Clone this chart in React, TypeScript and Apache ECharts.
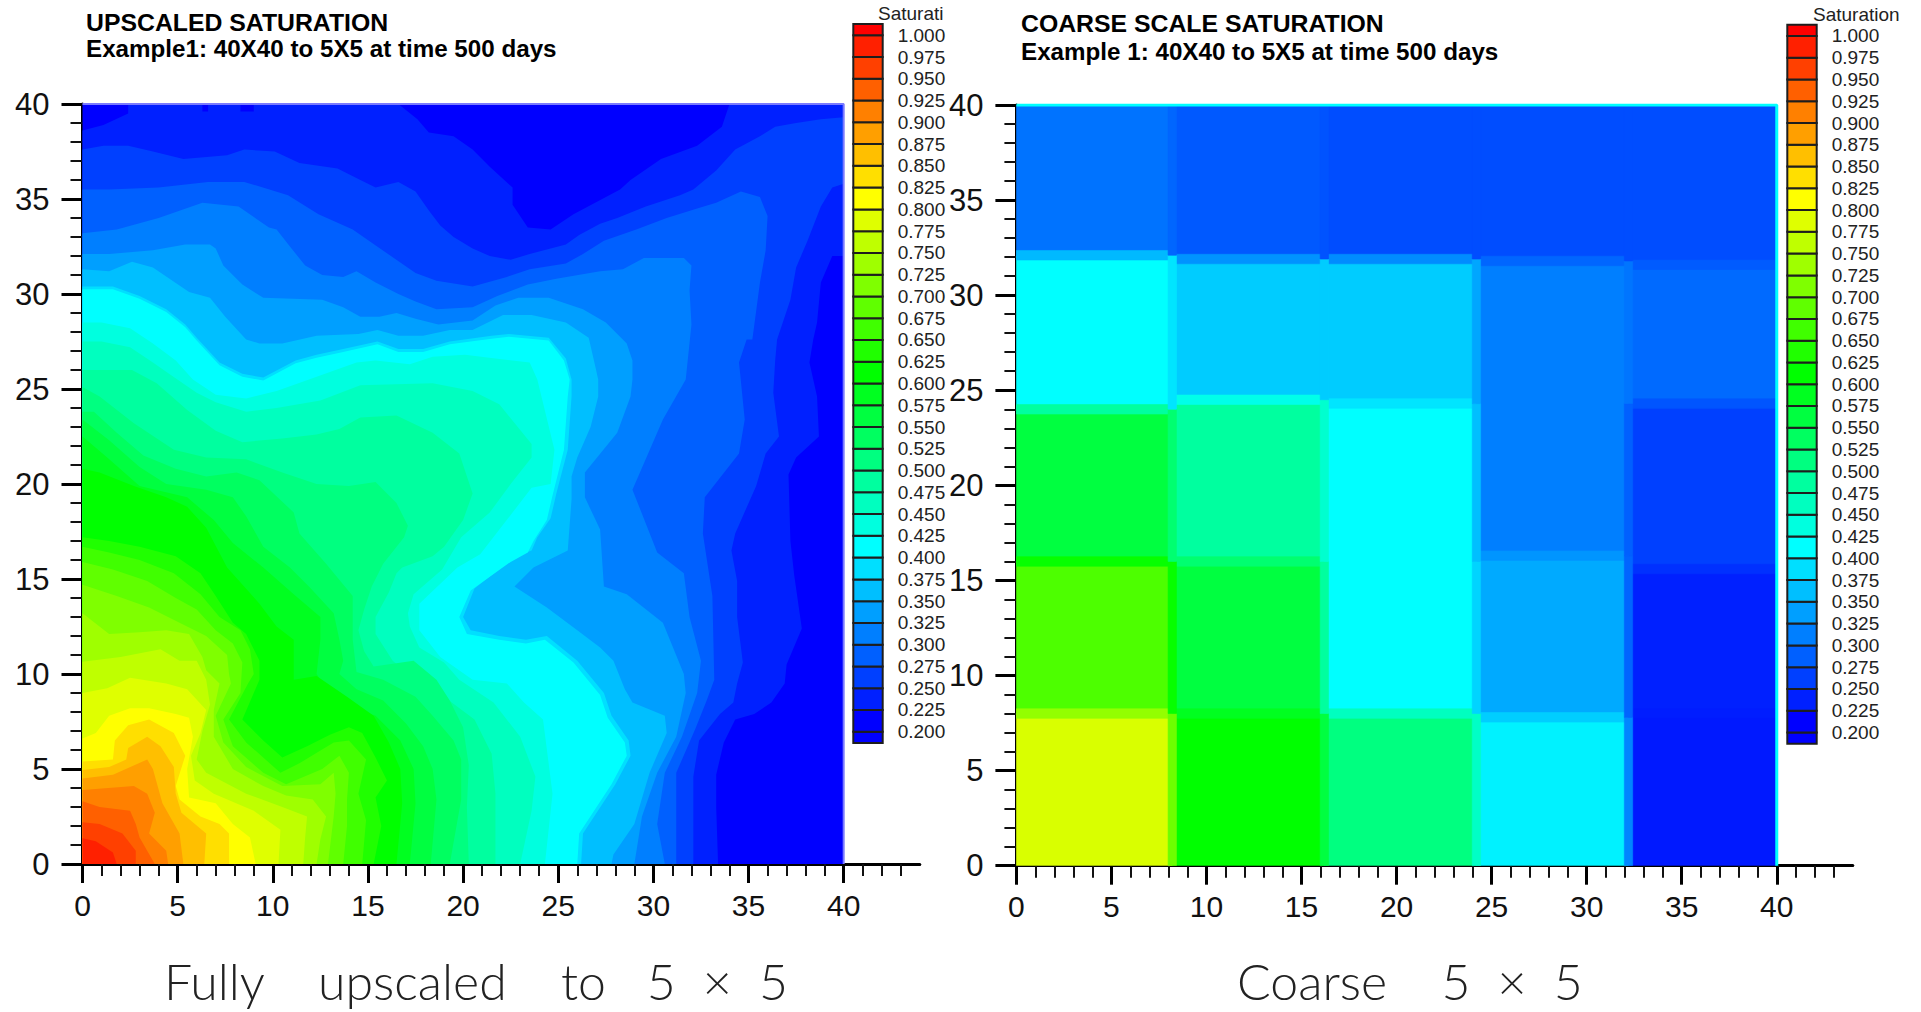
import React, { useEffect, useRef } from "react";
import * as echarts from "echarts";

// Tick labels and levels
const xyMajorTicks = [0, 5, 10, 15, 20, 25, 30, 35, 40];
const colorbarLevels = [1.0, 0.975, 0.95, 0.925, 0.9, 0.875, 0.85, 0.825, 0.8, 0.775, 0.75, 0.725, 0.7, 0.675, 0.65, 0.625, 0.6, 0.575, 0.55, 0.525, 0.5, 0.475, 0.45, 0.425, 0.4, 0.375, 0.35, 0.325, 0.3, 0.275, 0.25, 0.225, 0.2];

// Left panel: boundary of the region "saturation >= level", in data units
const c200 = [[0, 0], [40, 0], [40, 40], [0, 40]];
const c225 = [[0, 38.6], [1.1, 38.9], [2.4, 39.5], [2.4, 40], [6.3, 40], [6.3, 39.6], [6.6, 39.6], [6.6, 40], [8.3, 40], [8.3, 39.6], [9, 39.6], [9, 40], [16.6, 40], [17.6, 39.2], [18.2, 38.5], [19.5, 38.3], [20.5, 37.6], [21.4, 36.7], [22.6, 35.6], [22.6, 34.7], [23.4, 33.5], [24.6, 33.4], [25.8, 34.2], [28.25, 35.5], [28.8, 36], [30.4, 37.1], [32.3, 37.8], [33.6, 38.8], [34, 40], [40, 40], [40, 32], [39.4, 32], [38.8, 30.6], [38.6, 28.5], [38.4, 27.6], [38.2, 26.4], [38.6, 24.6], [38.7, 22.5], [37.5, 21.4], [37.1, 20.5], [37.2, 17], [37.4, 15.2], [37.8, 12.4], [37, 10.5], [36.9, 9.5], [36.2, 8.5], [35.3, 7.9], [34.3, 7.6], [33.7, 6.4], [33.3, 4.7], [33.3, 3], [33.4, 0]];
const c250 = [[0, 37.6], [1.1, 37.8], [2.4, 37.8], [3.7, 37.5], [5.3, 37.1], [7.6, 37.3], [8.5, 37.6], [10.1, 37.5], [11.4, 36.9], [13.4, 36.6], [14.6, 36], [15.4, 35.6], [16.6, 35.9], [17.5, 35.4], [18.2, 34.4], [18.8, 33.6], [19.5, 33], [20.5, 32.4], [21.4, 32], [22.5, 31.8], [23.5, 32.1], [25.4, 32.6], [26.1, 33.1], [27.2, 33.7], [28.1, 34], [29.6, 34.6], [31.4, 35.2], [32.1, 35.5], [33.3, 36.5], [34.3, 37.6], [35.6, 38.3], [36.4, 38.8], [37.5, 39], [38.8, 39.2], [40, 39.3], [40, 35.8], [39.4, 35.6], [38.8, 34.6], [38.1, 32.8], [37.5, 31.4], [37.2, 29.7], [36.5, 27.6], [36.4, 26.5], [36.3, 24.8], [36.6, 22.5], [35.9, 21.6], [35.4, 19.9], [34.3, 17.4], [34.1, 16.5], [34.4, 14.9], [34.4, 13], [34.7, 10.6], [34.4, 9.5], [34.2, 8.5], [33.5, 7.9], [32.4, 6.5], [32.1, 4.6], [32.1, 0]];
const c275 = [[0, 35.5], [1.4, 35.5], [4, 35.6], [6.6, 35.9], [8.5, 35.9], [10.8, 35.2], [12.4, 34.2], [14.2, 33.4], [15.2, 32.7], [17.5, 31.1], [18.6, 30.7], [20.5, 30.4], [22.3, 30.9], [23.5, 31.3], [25.4, 31.6], [26.3, 32.1], [27.4, 32.8], [29.1, 33.4], [30.7, 34], [32.3, 34.5], [33.3, 34.8], [34.6, 35.4], [35.6, 35.1], [36, 34.1], [35.9, 32.3], [35.6, 30.6], [35.2, 27.6], [34.9, 27.6], [34.5, 26.4], [34.8, 23.4], [34.5, 21.6], [32.7, 19.3], [32.6, 17.4], [33.1, 14.1], [33.2, 9.7], [32.8, 8.6], [32.2, 7.1], [31.2, 4.8], [31.2, 0]];
const c300 = [[0, 33.2], [1.8, 33.4], [4, 34], [6.3, 34.8], [8.2, 34.6], [9.8, 33.5], [10.2, 33.4], [10.9, 32.5], [11.7, 31.5], [12.6, 31], [13.7, 30.9], [14.4, 31.2], [15.4, 30.6], [16.6, 30], [17.5, 29.6], [18.6, 29.2], [20.5, 29.3], [21.8, 29.9], [23.4, 30.5], [24.9, 30.8], [27.2, 31.2], [28.4, 31.3], [29.5, 31.9], [31.6, 31.9], [32, 31.5], [31.9, 30.2], [32, 28.4], [31.7, 25.5], [30.5, 23.4], [28.9, 19.7], [30.2, 16.4], [31.6, 15.3], [31.9, 13], [32.5, 10.7], [32.3, 9], [31.5, 6.7], [30.6, 4.8], [30.2, 2.1], [30.6, 0]];
const c325 = [[0, 32.1], [1.4, 32.1], [3.7, 32.3], [5.4, 32.6], [6.7, 32.6], [7, 32.4], [7.4, 31.5], [8.4, 30.5], [9.5, 29.8], [12.6, 29.7], [13.7, 29.3], [14.6, 28.8], [15.6, 28.8], [16.5, 29], [17.5, 28.7], [18.7, 28.4], [20.5, 28.6], [21.7, 29.4], [22.9, 29.8], [24.5, 29.8], [26.3, 29.2], [27.5, 28.5], [28.6, 27.4], [28.9, 26.5], [28.9, 25.5], [28.8, 24.6], [28.1, 22.7], [26.4, 20.6], [26.4, 19.3], [27.2, 17.6], [27.4, 14.6], [28.6, 14.2], [30.5, 12.7], [31.6, 10], [31.7, 9], [31.2, 6.7], [30.2, 4.8], [29.4, 2.5], [29, 0]];
const c350 = [[0, 31.3], [1.4, 31.2], [2.6, 31.7], [3.7, 31.4], [5.6, 30.1], [6.7, 29.8], [7.5, 28.8], [8.6, 27.6], [9.3, 27.4], [10.5, 27.4], [12.3, 27.8], [14.5, 27.9], [15.5, 28.1], [16.6, 27.8], [17.9, 27.8], [19.3, 28.1], [20.5, 28.1], [22.1, 28.9], [23.6, 28.9], [25.4, 28.5], [26.6, 27.7], [26.9, 26.4], [27.1, 25.5], [27.1, 24.6], [26.7, 23], [26, 21.4], [25.7, 20.4], [25.7, 19.2], [25.5, 16.5], [23.7, 15.6], [22.7, 14.6], [24.4, 13.5], [26, 12.3], [27.2, 11.4], [27.9, 10.7], [28.5, 9.2], [28.9, 8.5], [30.6, 7.8], [30.7, 6.9], [29.8, 4.8], [29, 2.1], [27.9, 0.5], [27.8, 0]];
const c375 = [[0, 30.4], [1.6, 30.4], [3, 29.9], [4.4, 29.2], [5.4, 28.4], [6, 27.7], [7.2, 26.4], [8.4, 25.8], [9.5, 25.6], [11.2, 26.5], [12.3, 26.8], [13.7, 27.1], [15.5, 27.5], [16.6, 27.1], [17.9, 27.1], [19.3, 27.5], [21.5, 27.8], [22.4, 27.9], [24.5, 27.7], [25.4, 26.6], [25.7, 25.5], [25.7, 24.6], [25.5, 21.8], [24.9, 19.5], [24.6, 18.2], [23.9, 17.2], [23.6, 16.5], [22.6, 16.1], [20.6, 14.5], [20, 13], [20.4, 12.3], [21.9, 12], [23.3, 11.8], [24.4, 12], [26, 10.7], [27.4, 9], [27.8, 7.8], [28.7, 6.5], [28.8, 5.7], [28, 4.2], [26.3, 1.6], [26.2, 0]];
const c400 = [[0, 30.25], [1.6, 30.25], [3, 29.75], [4.4, 29.05], [5.4, 28.25], [6, 27.55], [7.2, 26.25], [8.4, 25.65], [9.5, 25.45], [11.2, 26.35], [12.3, 26.65], [13.7, 26.95], [15.5, 27.35], [16.6, 26.95], [17.9, 26.95], [19.3, 27.35], [21.5, 27.65], [22.4, 27.75], [24.5, 27.55], [25.3, 26.5], [25.6, 25.5], [25.5, 24.6], [25.3, 21.8], [24.7, 19.4], [24.4, 18.1], [23.7, 17], [23.4, 16.4], [22.5, 15.9], [20.4, 14.4], [19.8, 13], [20.2, 12.1], [21.9, 11.8], [23.3, 11.6], [24.3, 11.8], [25.8, 10.6], [27.2, 8.9], [27.6, 7.7], [28.5, 6.4], [28.6, 5.7], [27.8, 4.2], [26.1, 1.6], [26, 0]];
const c425 = [[0, 28.5], [1, 28.5], [2.5, 28.2], [3.7, 27.4], [4.9, 26.5], [5.8, 25.5], [7, 24.7], [8.6, 24.5], [10.2, 24.9], [11.9, 25.5], [14.4, 26.4], [15.4, 26.5], [17.2, 26.3], [18.4, 26.7], [20.1, 26.8], [21.7, 26.6], [23.5, 26.4], [23.9, 25.5], [24.8, 21.8], [24.6, 20], [23.6, 19.8], [22.6, 18.5], [20.9, 16.3], [19.7, 15.6], [17.7, 13.7], [17.7, 12.3], [18.8, 10.9], [20.5, 9.7], [22.3, 9.5], [23.2, 8.5], [24.2, 7.6], [24.7, 3.7], [24.3, 0]];
const c450 = [[0, 27.5], [1, 27.5], [2.5, 27.2], [3.7, 26.4], [4.7, 25.7], [6, 24.8], [7, 24.3], [8.6, 23.8], [10.2, 24], [12.5, 24.4], [14.6, 25.2], [18.4, 25.3], [20.5, 24.9], [21.9, 24.2], [23.6, 22.1], [23.6, 21.4], [22.5, 20], [21.4, 18.5], [19.9, 17.2], [18.9, 15.5], [17.4, 14.2], [17.1, 13.2], [17.2, 12.5], [17.7, 11.4], [19, 10.6], [19.8, 9.7], [21.6, 8.5], [23, 6.7], [23.8, 4.6], [23.6, 2.8], [23, 0]];
const c475 = [[0, 26], [2.6, 26], [3.9, 25.3], [5.5, 23.9], [7, 22.8], [8.4, 22.2], [10.5, 22.4], [12.3, 22.6], [13.5, 22.9], [14.6, 23.5], [16.5, 23.6], [18.4, 22.7], [19.8, 21.6], [20.5, 19.5], [20, 18.1], [19, 16.7], [18.4, 16.2], [16.8, 15.6], [16.5, 15.3], [16.1, 14.3], [15.4, 13], [15.4, 12.1], [16.3, 10.7], [17.5, 9.7], [19, 8.8], [20.6, 7.6], [21.5, 5.8], [21.7, 3.7], [21.7, 0]];
const c500 = [[0, 25.1], [0.9, 24.6], [2.7, 23.2], [4.8, 21.8], [6.5, 21.4], [8.6, 21.3], [10.5, 20.6], [12.3, 20], [14, 19.9], [15.4, 20.1], [16.5, 19], [17.1, 17.8], [16.9, 17.2], [15.8, 15.8], [15.2, 14.6], [14.8, 13.4], [14.5, 12.3], [14.8, 11.2], [15.3, 10.4], [17.4, 10.7], [18.6, 9.7], [19.3, 8.6], [20, 7.2], [20.3, 5.2], [20.2, 3], [20.3, 0]];
const c525 = [[0, 23.8], [0.6, 23.8], [1.8, 22.7], [3.2, 21.5], [4.9, 20.8], [6.5, 20.4], [8.1, 20.6], [9.3, 20.2], [11.1, 18.5], [11.4, 17.4], [12.8, 15.8], [14.2, 14.1], [14.2, 11.8], [14.4, 10.1], [15.8, 9.7], [17.5, 8.8], [18.4, 7.8], [19.5, 6.5], [19.9, 5.5], [19.9, 3.4], [19.3, 0]];
const c550 = [[0, 23.4], [1.4, 22.3], [3, 20.9], [4.4, 20], [6.5, 19.7], [7.9, 19.3], [8.6, 18.3], [9.5, 16.7], [10.9, 15.6], [11.9, 14.6], [13.2, 13.2], [13.5, 11.8], [13.7, 10.7], [13.5, 10], [14.4, 9.2], [15.8, 8.6], [17, 7.4], [17.9, 6.2], [18.4, 5], [18.6, 3.4], [18.3, 0]];
const c575 = [[0, 22.5], [1.3, 21.4], [3, 19.9], [5.5, 19.3], [6.9, 18.1], [7.9, 16.9], [9.5, 15.6], [11.1, 14.2], [12.5, 13], [12.5, 11.8], [12.3, 10], [12.5, 9.7], [13.3, 8.5], [15.4, 7.8], [16.7, 6.5], [17.4, 5], [17.5, 3.2], [17.2, 0]];
const c600 = [[0, 20.8], [0.9, 20.6], [2.7, 19.9], [4.4, 19.3], [5.5, 18.8], [6.5, 17.7], [7.6, 15.6], [9.3, 13.7], [10.2, 12.5], [11.1, 11.8], [11.1, 9.7], [12.3, 9.9], [13.9, 8.8], [15.3, 7.8], [16.1, 6.4], [16.7, 5], [16.8, 3.2], [16.5, 0]];
const c625 = [[0, 17.2], [1.4, 17], [3, 16.7], [4.9, 16.2], [6.2, 15.3], [7, 14.1], [7.9, 12.7], [8.6, 12.1], [9.3, 10.7], [9.3, 9.7], [8.4, 7.6], [9.5, 6.5], [10.5, 5.6], [11.8, 6.2], [13, 6.8], [14, 7.2], [14.7, 6.9], [15.4, 5.6], [16, 4.4], [15.4, 3.5], [15.7, 2], [15.3, 0]];
const c650 = [[0, 16.7], [1.4, 16.4], [3, 16], [4.8, 15.3], [6.2, 14.2], [7.2, 13], [8.3, 12.3], [8.8, 11.3], [9, 10], [8.7, 9.5], [7.7, 7.6], [8.6, 6.4], [10.4, 4.8], [11.4, 5.3], [13.2, 6.4], [14, 6.5], [14.9, 5.5], [14.5, 3.7], [14.9, 2.3], [14.7, 0]];
const c675 = [[0, 15.9], [1.6, 15.5], [3.4, 14.9], [4.9, 14], [6, 13.4], [7, 12.3], [7.9, 11.6], [8.4, 10.6], [8.3, 9], [7.4, 7.6], [7.9, 6.2], [9.5, 4.8], [10.7, 4.2], [12.6, 5], [13.5, 5.7], [14, 4.8], [13.9, 3.4], [13.9, 2], [13.7, 0]];
const c700 = [[0, 14.7], [1.8, 14.1], [3.5, 13.5], [5.1, 12.7], [6.5, 12], [7.6, 11], [7.7, 10], [7.8, 9.5], [7, 7.8], [7.4, 6.4], [8.6, 5.1], [10.5, 4.1], [12.5, 4.2], [13.2, 4.8], [13.3, 3.7], [13.2, 2.5], [12.9, 0]];
const c725 = [[0, 13.2], [1.4, 12.1], [3, 12.2], [4.4, 12.3], [5.6, 12.1], [6.3, 10.9], [6.5, 10.2], [7.2, 9.5], [6.9, 8.1], [6.9, 6.7], [7.9, 5], [9.5, 4.1], [10.7, 3.6], [12.1, 3.4], [12.8, 2.5], [12.5, 1.3], [12.3, 0]];
const c750 = [[0, 10.65], [2, 10.9], [4.1, 11.3], [5.1, 10.7], [6, 10.7], [6.5, 9.7], [6.7, 8.4], [6.3, 7], [6, 5.5], [6.5, 4.8], [8.6, 3.7], [10.5, 3], [11.8, 2.5], [11.7, 1.4], [11.6, 0]];
const c775 = [[0, 9], [1.3, 9.25], [2.5, 9.8], [4.4, 9.5], [5.5, 9.2], [6.5, 8.1], [6.2, 6.9], [5.7, 5.7], [5.9, 4.4], [6.9, 3.7], [9, 2.8], [10.4, 1.8], [10.3, 0]];
const c800 = [[0, 6.6], [0.7, 6.9], [1.4, 7.8], [2.5, 8.2], [3.5, 8.2], [4.9, 7.9], [5.6, 7.7], [5.8, 6.7], [5.5, 5], [5.6, 3.5], [7, 3.2], [7.9, 2.1], [8.8, 1.4], [9.1, 0]];
const c825 = [[0, 5.4], [1.6, 5.5], [1.7, 6.5], [2.4, 7.3], [3.5, 7.6], [4.8, 6.9], [5.4, 5.7], [4.9, 4.1], [5.1, 3.4], [6.2, 2.5], [7.2, 2.1], [7.7, 1.6], [7.7, 0]];
const c850 = [[0, 4.95], [1.4, 5.1], [2.3, 5.5], [2.4, 6.1], [3.4, 6.7], [4.1, 6.2], [4.8, 5.1], [4.9, 3.7], [5.2, 2.7], [6.5, 1.6], [6.4, 0]];
const c875 = [[0, 4.5], [1.6, 4.7], [3.4, 5.5], [3.7, 5], [4.2, 3.2], [5.1, 1.6], [5.3, 0]];
const c900 = [[0, 3.9], [2.7, 4.1], [3.4, 3.7], [3.8, 2.7], [3.5, 1.6], [4.4, 0.7], [4.5, 0]];
const c925 = [[0, 3.3], [0.9, 3], [2.5, 2.8], [2.8, 2.1], [3, 1.4], [3.8, 0]];
const c950 = [[0, 2.2], [0.9, 2.1], [2.1, 1.6], [2.8, 0.7], [2.8, 0]];
const c975 = [[0, 1.35], [0.7, 1.2], [1.6, 0.6], [1.8, 0]];

const contourLevels = [0.2, 0.225, 0.25, 0.275, 0.3, 0.325, 0.35, 0.375, 0.4, 0.425, 0.45, 0.475, 0.5, 0.525, 0.55, 0.575, 0.6, 0.625, 0.65, 0.675, 0.7, 0.725, 0.75, 0.775, 0.8, 0.825, 0.85, 0.875, 0.9, 0.925, 0.95, 0.975];
const contourShapes = [c200, c225, c250, c275, c300, c325, c350, c375, c400, c425, c450, c475, c500, c525, c550, c575, c600, c625, c650, c675, c700, c725, c750, c775, c800, c825, c850, c875, c900, c925, c950, c975];

// Right panel: coarse 5x5 cells (rows from y = 0 upward, columns from x = 0 rightward)
const coarseXEdges = [0, 8.2, 16.2, 24.2, 32.2, 40];
const coarseCol0Edges = [0, 8, 16, 24, 32.1, 40];
const coarseCol1Edges = [0, 8, 16, 24.5, 31.9, 40];
const coarseCol2Edges = [0, 8, 16, 24.3, 31.9, 40];
const coarseCol3Edges = [0, 7.8, 16.3, 24.3, 31.8, 40];
const coarseCol4Edges = [0, 8, 15.6, 24.3, 31.6, 40];
const coarseColEdges = [coarseCol0Edges, coarseCol1Edges, coarseCol2Edges, coarseCol3Edges, coarseCol4Edges];
const coarseRow0 = [0.77, 0.6, 0.5, 0.39, 0.22];
const coarseRow1 = [0.66, 0.55, 0.4, 0.333, 0.225];
const coarseRow2 = [0.55, 0.475, 0.4, 0.3, 0.25];
const coarseRow3 = [0.4, 0.36, 0.36, 0.3, 0.283];
const coarseRow4 = [0.29, 0.27, 0.26, 0.26, 0.26];
const coarseRows = [coarseRow0, coarseRow1, coarseRow2, coarseRow3, coarseRow4];

const sans = "Liberation Sans";

function rainbow(v: number): string {
  let r = 0, g = 0, b = 0;
  if (v <= 0.4) { const t = Math.max(0, (v - 0.2) / 0.2); g = 255 * t; b = 255; }
  else if (v <= 0.6) { const t = (v - 0.4) / 0.2; g = 255; b = 255 * (1 - t); }
  else if (v <= 0.8) { const t = (v - 0.6) / 0.2; r = 255 * t; g = 255; }
  else { const t = Math.min(1, (v - 0.8) / 0.2); r = 255; g = 255 * (1 - t); }
  return `rgb(${Math.round(r)},${Math.round(g)},${Math.round(b)})`;
}

function plotAxes(gridIndex: number) {
  const shared = {
    gridIndex,
    type: "value",
    min: 0,
    interval: 5,
    axisLine: { show: true, onZero: false, lineStyle: { color: "#000", width: 3 } },
    minorTick: { show: true, splitNumber: 5, length: 12, lineStyle: { color: "#111", width: 2 } },
    splitLine: { show: false },
    minorSplitLine: { show: false },
  };
  const labelStyle = { color: "#111", fontFamily: sans, customValues: xyMajorTicks };
  return {
    x: {
      ...shared, max: 44, position: "bottom",
      axisTick: { show: true, length: 19, lineStyle: { color: "#000", width: 3 }, customValues: xyMajorTicks },
      axisLabel: { ...labelStyle, margin: 26, fontSize: 30 },
    },
    y: {
      ...shared, max: 40, position: "left",
      axisTick: { show: true, length: 21, lineStyle: { color: "#000", width: 3 }, customValues: xyMajorTicks },
      axisLabel: { ...labelStyle, margin: 33, fontSize: 31 },
    },
  };
}

function colorbarSeries(idx: number) {
  const cells: number[][] = [];
  cells.push([0.187, 0.2, 0.1]);
  for (let i = colorbarLevels.length - 1; i > 0; i--) cells.push([colorbarLevels[i], colorbarLevels[i - 1], colorbarLevels[i]]);
  cells.push([1.0, 1.013, 1.0]);
  return {
    type: "custom", coordinateSystem: "cartesian2d", xAxisIndex: idx, yAxisIndex: idx, silent: true, clip: false,
    data: cells,
    encode: { y: [0, 1] },
    renderItem: (_: any, api: any) => {
      const lo = api.value(0), hi = api.value(1), c = api.value(2);
      const a = api.coord([0, hi]), b = api.coord([1, lo]);
      return {
        type: "rect",
        shape: { x: a[0], y: a[1], width: b[0] - a[0], height: b[1] - a[1] },
        style: { fill: rainbow(c), stroke: "#1e1e1e", lineWidth: 2 },
      };
    },
  };
}

function colorbarAxes(gridIndex: number) {
  return {
    x: { gridIndex, type: "value", min: 0, max: 1, show: false },
    y: {
      gridIndex, type: "value", min: 0.175, max: 1.025, interval: 0.025, position: "right",
      axisLine: { show: false }, axisTick: { show: false }, splitLine: { show: false },
      axisLabel: {
        show: true, margin: 15, color: "#222", fontFamily: sans, fontSize: 19, customValues: colorbarLevels,
        padding: [6, 0, 0, 0],
        formatter: (v: number) => v.toFixed(3),
      },
    },
  };
}

function buildCoarseCells() {
  const cells: number[][] = [];
  const stripH = 0.25, stripV = 0.22;
  coarseRows.forEach((row, j) => row.forEach((v, i) => {
    const e = coarseColEdges[i];
    cells.push([coarseXEdges[i], coarseXEdges[i + 1], e[j], e[j + 1], v]);
  }));
  coarseRows.forEach((row, j) => {
    if (j === coarseRows.length - 1) return;
    row.forEach((v, i) => {
      const edge = coarseColEdges[i][j + 1];
      cells.push([coarseXEdges[i], coarseXEdges[i + 1], edge - stripH, edge + stripH, (v + coarseRows[j + 1][i]) / 2]);
    });
  });
  coarseRows.forEach((row, j) => {
    row.forEach((v, i) => {
      if (i === row.length - 1) return;
      const e = coarseColEdges[i];
      cells.push([coarseXEdges[i + 1] - stripV, coarseXEdges[i + 1] + stripV, e[j], e[j + 1], (v + row[i + 1]) / 2]);
    });
  });
  return cells;
}

function App() {
  const ref = useRef<HTMLDivElement>(null);
  useEffect(() => {
    document.body.style.margin = "0";
    document.body.style.overflow = "hidden";
    const chart = echarts.init(ref.current!, null, { renderer: "svg" });
    const pL = plotAxes(0), pR = plotAxes(1), cL = colorbarAxes(2), cR = colorbarAxes(3);
    const t = (text: string, left: number, top: number, textStyle: any) => ({ text, left, top, padding: 0, textStyle: { color: "#000", fontFamily: sans, ...textStyle } });
    const head1 = { fontSize: 24.8, fontWeight: "bold" };
    const head2 = { fontSize: 24.2, fontWeight: "bold" };
    const cap = { fontFamily: "Lato", fontWeight: 300, fontSize: 50, lineHeight: 50, color: "#222" };
    const bar = { fontSize: 19, fontWeight: "normal", color: "#222" };
    chart.setOption({
      animation: false,
      backgroundColor: "#fff",
      tooltip: { show: false },
      title: [
        t("UPSCALED SATURATION", 86, 10, head1),
        t("Example1: 40X40 to 5X5 at time 500 days", 86, 36, head2),
        t("COARSE SCALE SATURATION", 1021, 11, head1),
        t("Example 1: 40X40 to 5X5 at time 500 days", 1021, 39, head2),
        t("Fully    upscaled    to   5  ×  5", 164, 956, cap),
        t("Coarse    5  ×  5", 1237, 956, cap),
        t("Saturati", 878, 4, bar),
        t("Saturation", 1813, 5, bar),
      ],
      grid: [
        { left: 82.5, top: 104, width: 837.3, height: 760, containLabel: false },
        { left: 1016.4, top: 105, width: 836.4, height: 760.7, containLabel: false },
        { left: 853.3, top: 13.5, width: 29.4, height: 740 },
        { left: 1787.3, top: 14.2, width: 29.4, height: 740 },
      ],
      xAxis: [pL.x, pR.x, cL.x, cR.x],
      yAxis: [pL.y, pR.y, cL.y, cR.y],
      series: [
        {
          type: "custom", coordinateSystem: "cartesian2d", xAxisIndex: 0, yAxisIndex: 0, silent: true, clip: true,
          data: contourShapes.map((_, i) => [i, i]),
          renderItem: (_: any, api: any) => {
            const i = api.value(0);
            const shape = contourShapes[i];
            const pts = (i === 0 ? shape : [...shape, [0, 0]]).map((p) => api.coord(p));
            return { type: "polygon", shape: { points: pts }, style: { fill: rainbow(contourLevels[i]) } };
          },
        },
        {
          type: "line", xAxisIndex: 0, yAxisIndex: 0, showSymbol: false, silent: true,
          data: [[0, 40], [40, 40], [40, 0]], lineStyle: { color: "#7a7aff", width: 2 },
        },
        {
          type: "custom", coordinateSystem: "cartesian2d", xAxisIndex: 1, yAxisIndex: 1, silent: true, clip: true,
          data: buildCoarseCells(),
          encode: { x: [0, 1], y: [2, 3] },
          renderItem: (_: any, api: any) => {
            const a = api.coord([api.value(0), api.value(3)]);
            const b = api.coord([api.value(1), api.value(2)]);
            const c = rainbow(api.value(4));
            return { type: "rect", shape: { x: a[0], y: a[1], width: b[0] - a[0], height: b[1] - a[1] }, style: { fill: c, stroke: c, lineWidth: 0.6 } };
          },
        },
        {
          type: "line", xAxisIndex: 1, yAxisIndex: 1, showSymbol: false, silent: true,
          data: [[0, 40], [40, 40], [40, 0]], lineStyle: { color: "#00ffff", width: 3 },
        },
        colorbarSeries(2),
        colorbarSeries(3),
      ],
    });
    return () => chart.dispose();
  }, []);
  return <div ref={ref} style={{ position: "absolute", left: 0, top: 0, width: 1921, height: 1012 }} />;
}

export default App;
